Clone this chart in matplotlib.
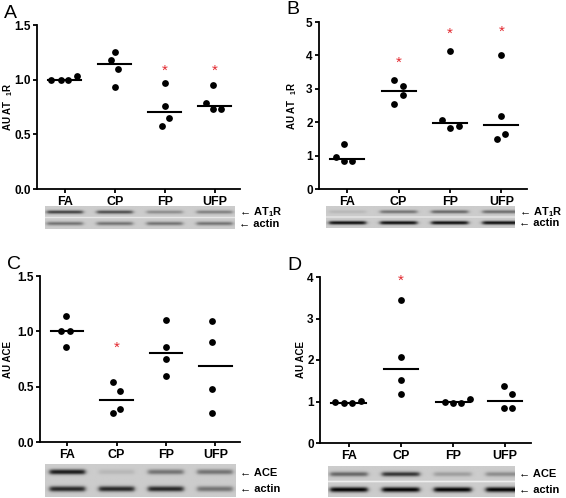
import numpy as np
import matplotlib
matplotlib.use('Agg')
import matplotlib.pyplot as plt

plt.rcParams['font.family'] = ['Liberation Sans', 'DejaVu Sans']
plt.rcParams['mathtext.default'] = 'regular'

W, H = 566, 498

groups = ['FA', 'CP', 'FP', 'UFP']

# valores (4 animales por grupo)
a_vals = [[1.00, 1.00, 1.00, 1.03], [1.25, 1.18, 1.10, 0.93],
          [0.97, 0.76, 0.65, 0.58], [0.95, 0.79, 0.73, 0.73]]
b_vals = [[1.36, 0.95, 0.85, 0.85], [3.26, 3.08, 2.81, 2.53],
          [4.13, 2.06, 1.84, 1.89], [4.02, 2.19, 1.64, 1.49]]
c_vals = [[1.14, 1.00, 1.00, 0.86], [0.54, 0.46, 0.30, 0.26],
          [1.10, 0.86, 0.75, 0.60], [1.09, 0.90, 0.48, 0.26]]
d_vals = [[0.99, 0.96, 0.96, 1.02], [3.44, 2.07, 1.51, 1.19],
          [1.00, 0.96, 0.96, 1.07], [1.37, 1.19, 0.84, 0.84]]

# desplazamiento horizontal de cada punto
a_jit = [[-0.27, -0.08, 0.07, 0.24], [0.0, -0.07, 0.07, 0.0],
         [0.0, 0.0, 0.08, -0.06], [-0.04, -0.18, -0.03, 0.13]]
b_jit = [[-0.06, -0.21, -0.06, 0.10], [-0.09, 0.08, 0.08, -0.09],
         [0.0, -0.15, 0.0, 0.18], [0.0, 0.0, 0.08, -0.08]]
c_jit = [[-0.03, -0.12, 0.06, -0.03], [-0.08, 0.08, 0.08, -0.08],
         [0.0, 0.0, 0.0, 0.0], [-0.07, -0.07, -0.07, -0.07]]
d_jit = [[-0.26, -0.09, 0.07, 0.23], [0.0, 0.0, 0.0, 0.0],
         [-0.16, 0.0, 0.16, 0.33], [-0.02, 0.14, -0.02, 0.14]]

# asteriscos (grupo, altura)
a_star = [(2, 1.08), (3, 1.08)]
b_star = [(1, 3.78), (2, 4.65), (3, 4.70)]
c_star = [(1, 0.85)]
d_star = [(1, 3.91)]

# intensidad de bandas del western blot (banda superior, actina)
a_top = [0.55, 0.50, 0.25, 0.30]
a_bot = [0.35, 0.35, 0.35, 0.35]
b_top = [0.08, 0.35, 0.40, 0.38]
b_bot = [0.75, 0.75, 0.75, 0.75]
c_top = [0.70, 0.08, 0.35, 0.35]
c_bot = [0.65, 0.65, 0.65, 0.35]
d_top = [0.40, 0.60, 0.18, 0.25]
d_bot = [0.80, 0.80, 0.80, 0.80]


def rect(l, t, r, b):
    return [l / W, 1 - b / H, (r - l) / W, (b - t) / H]


def make_blot(top, bot, x0, x1, sep=True):
    ny, nx = 40, 240
    xs = np.linspace(x0, x1, nx)
    ys = np.arange(ny)
    img = np.full((ny, nx), 0.80)
    for i in range(4):
        gx = 1 / (1 + np.exp(-(0.36 - np.abs(xs - i)) * 40))
        gy_t = np.exp(-((ys - 10) / 3.0) ** 2)
        gy_b = np.exp(-((ys - 30) / 3.2) ** 2)
        img -= top[i] * np.outer(gy_t, gx)
        img -= bot[i] * np.outer(gy_b, gx)
    if sep:
        img[19:21, :] = 0.93
    return np.clip(img, 0, 1)


fig = plt.figure(figsize=(W / 100, H / 100), dpi=100)
XL = (-0.55, 3.5)

panels = [
    ('A', a_vals, a_jit, a_star, (37, 25, 240, 189), (0, 1.5), [0.0, 0.5, 1.0, 1.5],
     r'AU AT  $_1$R', 15, a_top, a_bot, (45, 206, 235, 229), 'AT$_1$R', True),
    ('B', b_vals, b_jit, b_star, (319, 22, 527, 189), (0, 5), [0, 1, 2, 3, 4, 5],
     r'AU AT  $_1$R', 299, b_top, b_bot, (326, 206, 515, 228), 'AT$_1$R', True),
    ('C', c_vals, c_jit, c_star, (40, 276, 240, 442), (0, 1.5), [0.0, 0.5, 1.0, 1.5],
     'AU ACE', 13, c_top, c_bot, (45, 464, 236, 497), 'ACE', False),
    ('D', d_vals, d_jit, d_star, (320, 277, 531, 443), (0, 4), [0, 1, 2, 3, 4],
     'AU ACE', 306, d_top, d_bot, (328, 466, 515, 497), 'ACE', True),
]

for (letra, vals, jit, stars, box, ylim, yt, ylab, ylx, top, bot, bl, banda, sep) in panels:
    l, t, r, b = box
    ax = fig.add_axes(rect(l, t, r, b))
    for i, g in enumerate(groups):
        xs = [i + j for j in jit[i]]
        ax.scatter(xs, vals[i], s=24, color='black', zorder=3, linewidths=0)
        med = np.median(vals[i])
        ax.plot([i - 0.33, i + 0.33], [med, med], color='black', lw=1.5, zorder=2)
    for (i, y) in stars:
        ax.text(i, y, '*', color='#e3262d', fontsize=11, ha='center', va='center')
    ax.set_xlim(*XL)
    ax.set_ylim(*ylim)
    ax.set_xticks(range(4))
    ax.set_xticklabels(groups, fontweight='bold', fontsize=9)
    ax.set_yticks(yt)
    if isinstance(yt[0], float):
        ax.set_yticklabels(['%.1f' % v for v in yt], fontweight='bold', fontsize=8.5)
    else:
        ax.set_yticklabels([str(v) for v in yt], fontweight='bold', fontsize=8.5)
    ax.set_ylabel(ylab, fontweight='bold', fontsize=7)
    ax.yaxis.set_label_coords((ylx - l) / (r - l), 0.5)
    for s in ['top', 'right']:
        ax.spines[s].set_visible(False)
    for s in ['left', 'bottom']:
        ax.spines[s].set_linewidth(1.3)
    ax.tick_params(width=1.3, length=3, pad=1.5)
    ax.tick_params(axis='x', pad=2)
    fig.text((l - 33) / W, 1 - (t - 12) / H, letra, fontsize=14, va='center', ha='left')

    # western blot debajo
    bl_l, bl_t, bl_r, bl_b = bl
    x0 = XL[0] + (bl_l - l) / (r - l) * (XL[1] - XL[0])
    x1 = XL[0] + (bl_r - l) / (r - l) * (XL[1] - XL[0])
    bax = fig.add_axes(rect(bl_l, bl_t, bl_r, bl_b))
    img = make_blot(top, bot, x0, x1, sep)
    bax.imshow(img, cmap='gray', vmin=0, vmax=1, aspect='auto',
               extent=(x0, x1, 0, 1), interpolation='bilinear')
    bax.set_xlim(x0, x1)
    bax.set_ylim(0, 1)
    bax.axis('off')
    tx = (bl_r + 4) / W
    fig.text(tx, 1 - (bl_t + (bl_b - bl_t) * 0.27) / H, '\u2190 ' + banda,
             fontsize=8, fontweight='bold', va='center', ha='left')
    fig.text(tx, 1 - (bl_t + (bl_b - bl_t) * 0.77) / H, '\u2190 actin',
             fontsize=8, fontweight='bold', va='center', ha='left')

fig.savefig('out.png', dpi=100)
